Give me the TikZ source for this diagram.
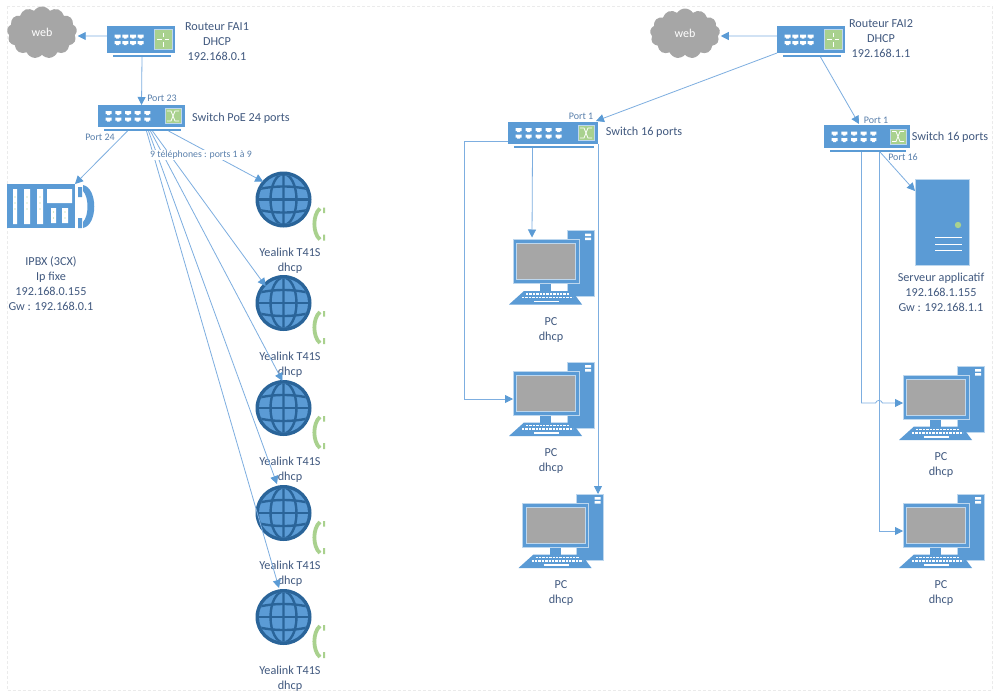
\documentclass[tikz,border=0pt]{standalone}
\usepackage{fontspec}
\setmainfont{Carlito}
\usetikzlibrary{arrows.meta,shapes.symbols}
\definecolor{iconblue}{HTML}{5B9BD5}
\definecolor{iconedge}{HTML}{BDD7EE}
\definecolor{globedark}{HTML}{2A6499}
\definecolor{leafgreen}{HTML}{A9D18E}
\definecolor{screengray}{HTML}{A6A6A6}
\definecolor{inktext}{HTML}{41597F}
\definecolor{inkport}{HTML}{5A80AC}
\definecolor{wire}{HTML}{7DAEE0}
\definecolor{wiretip}{HTML}{5B9BD5}
\newcommand{\rtsym}{
\fill [leafgreen] (-9,-10) rectangle (9,10);
\draw [white,line width=0.8pt] (-6,0) -- (-1.5,0) (1.5,0) -- (6,0) (0,-7) -- (0,-2.5) (0,2.5) -- (0,7);
\draw [iconedge,line width=0.6pt] (-9,-10) rectangle (9,10);
}
\newcommand{\swsym}{
\fill [leafgreen] (-8,-7.5) rectangle (8,7.5);
\draw [white,line width=0.8pt] (-6,-5) -- (-2,-5) -- (2,5) -- (6,5) (-6,5) -- (-2,5) -- (2,-5) -- (6,-5);
\draw [iconedge,line width=0.6pt] (-8,-7.5) rectangle (8,7.5);
}
\tikzset{
  link/.style={wire,line width=0.8pt,-{Triangle[length=8pt,width=8pt,color=wiretip]}},
  lbl/.style={text=inktext,font=\fontsize{12.2}{15}\selectfont,align=center,inner sep=0pt},
  portlbl/.style={text=inkport,font=\fontsize{10}{11}\selectfont,inner sep=0pt},
  blockfill/.style={fill=iconblue,inner sep=0pt,outer sep=0pt},
  webcloud/.style={cloud,cloud puffs=13,cloud puff arc=115,aspect=1.35,fill=screengray,inner sep=0pt,
    text=white,font=\fontsize{12}{13}\selectfont},
  pics/netbox/.style n args={5}{code={
    \node [blockfill,minimum width=#1pt,minimum height=#2pt] (-body) at (0,0) {};
    \node [blockfill,minimum width=#1pt-10pt,minimum height=2pt] (-base) at (1,#2/2+3) {};
    \foreach \i in {1,...,#3} {
      \begin{scope}[shift={({-#1/2+8+(\i-1)*#4},0)}]
      \fill [white] (-0.4,-5) -- (5.6,-5) -- (5.6,-2) -- (4,-2) -- (4,-0.9) -- (1.2,-0.9) -- (1.2,-2) -- (-0.4,-2) -- cycle;
      \fill [white] (-0.4,1.5) -- (5.6,1.5) -- (5.6,4.5) -- (4,4.5) -- (4,5.6) -- (1.2,5.6) -- (1.2,4.5) -- (-0.4,4.5) -- cycle;
      \end{scope}
    }
    \begin{scope}[shift={({#1/2-12},0)}]
    #5
    \end{scope}
  }},
  pics/desktop/.style={code={
    \node [blockfill,draw=iconedge,line width=0.4pt,minimum width=27pt,minimum height=66pt] (-tower) at (34.5,2) {};
    \fill [white] (39,-28) rectangle (45,-25.5) (39,-24) rectangle (45,-21.5);
    \fill [iconblue] (-6,22) rectangle (5,30);
    \node [blockfill,draw=iconedge,line width=0.7pt,minimum width=66pt,minimum height=44pt] (-mon) at (0,0) {};
    \fill [screengray] (-29.5,-18) rectangle (29.5,18);
    \draw [iconedge,line width=0.7pt] (-29.5,-18) rectangle (29.5,18);
    \fill [iconblue] (-22,29.5) -- (26,29.5) -- (36,43) -- (-37,43) -- cycle;
    \draw [white,line width=1.3pt,dash pattern=on 2.4pt off 1pt] (-20,32.5) -- (24,32.5);
    \draw [white,line width=1.3pt,dash pattern=on 2.4pt off 1pt] (-24,36) -- (27,36);
    \draw [white,line width=1.2pt] (-12,40) -- (13,40);
  }},
  pics/phoneglobe/.style={code={
    \node [circle,fill=globedark,inner sep=0pt,outer sep=0pt,minimum size=56pt] (-ball) at (0,0) {};
    \fill [iconblue] (0,0) circle (24.5);
    \begin{scope}
    \clip (0,0) circle (24.5);
    \draw [globedark,line width=2.4pt] (0,-26) -- (0,26) (0,0) ellipse (13 and 25.5);
    \draw [globedark,line width=2.4pt] (-26,0) -- (26,0);
    \draw [globedark,line width=2.4pt] (-26,-10) .. controls (-10,-14) and (10,-14) .. (26,-10);
    \draw [globedark,line width=2.4pt] (-26,10) .. controls (-10,14) and (10,14) .. (26,10);
    \end{scope}
    \draw [leafgreen,line width=3.8pt] (36.5,9) .. controls (29,15) and (29,34) .. (36.5,40);
    \fill [leafgreen] (39.5,8) rectangle (41.5,13.5) (39.5,35) rectangle (41.5,41);
  }},
  pics/pabx/.style={code={
    \node [blockfill,minimum width=68pt,minimum height=44pt] (-body) at (0,0) {};
    \fill [white] (-28,-17) rectangle (-24,18) (-17,-17) rectangle (-11,18) (-4,-17) rectangle (2,18);
    \fill [white] (6,-17) rectangle (31,-3) (10,2) rectangle (15,17) (21,2) rectangle (27,17);
    \fill [leafgreen] (-26,-9) circle (0.7) (-26,-3) circle (0.7) (-26,3) circle (0.7)
      (-14,-9) circle (0.7) (-14,-3) circle (0.7) (-14,3) circle (0.7)
      (-1,-9) circle (0.7) (-1,-3) circle (0.7) (-1,3) circle (0.7)
      (12.5,6) circle (0.7) (12.5,12) circle (0.7) (24,6) circle (0.7) (24,12) circle (0.7);
    \fill [iconblue] (37,-19) rectangle (41,-9) (37,12) rectangle (41,22);
    \fill [iconblue] (42,-21) .. controls (57,-18) and (57,19) .. (42,22) -- (42,16) .. controls (48,10) and (48,-9) .. (42,-15) -- cycle;
  }}
}
\begin{document}
\begin{tikzpicture}[x=1pt,y=-1pt]
\path [use as bounding box,fill=white] (0,0) rectangle (1000,696);
\draw [black!8,line width=0.8pt,dash pattern=on 3pt off 2pt] (7,6) rectangle (992,690);
\node [webcloud,minimum width=70pt,minimum height=52pt] (cloudA) at (42,32.5) {web};
\node [webcloud,minimum width=70pt,minimum height=50pt] (cloudB) at (685,33.5) {web};
\pic (rtrA) at (141,39.5) {netbox={68}{27}{4}{7.7}{\rtsym}};
\pic (rtrB) at (811,39.5) {netbox={68}{27}{4}{7.7}{\rtsym}};
\pic (swP) at (141.5,116) {netbox={87}{22}{5}{9.7}{\swsym}};
\pic (swL) at (553,133) {netbox={90}{22}{5}{10}{\swsym}};
\pic (swR) at (867,136.5) {netbox={86}{23}{5}{9.7}{\swsym}};
\pic (ipbx) at (41,206) {pabx};
\pic (glA) at (283.5,199.5) {phoneglobe};
\pic (glB) at (283.5,303) {phoneglobe};
\pic (glC) at (283.5,408) {phoneglobe};
\pic (glD) at (283.5,513) {phoneglobe};
\pic (glE) at (283.5,617) {phoneglobe};
\pic (pcA) at (546,261.5) {desktop};
\pic (pcB) at (546,393) {desktop};
\pic (pcC) at (555.5,525) {desktop};
\pic (pcD) at (936,397) {desktop};
\pic (pcE) at (936,525) {desktop};
\node [blockfill,draw=iconedge,line width=0.5pt,minimum width=54pt,minimum height=86pt] (srv) at (942,222) {};
\fill [leafgreen] (958,225) circle (3.2);
\draw [white,line width=1pt] (935,237) -- (962,237) (935,244) -- (962,244) (935,250.5) -- (962,250.5);
\node [lbl] (txtRtrA) at (217,42) {Routeur FAI1\\DHCP\\192.168.0.1};
\node [lbl] (txtRtrB) at (881,38.5) {Routeur FAI2\\DHCP\\192.168.1.1};
\node [lbl] (txtSwP) at (241,118) {Switch PoE 24 ports};
\node [lbl] (txtSwL) at (644,132) {Switch 16 ports};
\node [lbl] (txtSwR) at (950,137) {Switch 16 ports};
\node [lbl] (txtIpbx) at (51,284) {IPBX (3CX)\\Ip fixe\\192.168.0.155\\Gw : 192.168.0.1};
\node [lbl] (txtSrv) at (941,292.5) {Serveur applicatif\\192.168.1.155\\Gw : 192.168.1.1};
\node [lbl] (txtGlA) at (290,260.5) {Yealink T41S\\dhcp};
\node [lbl] (txtGlB) at (290,364.5) {Yealink T41S\\dhcp};
\node [lbl] (txtGlC) at (290,469.5) {Yealink T41S\\dhcp};
\node [lbl] (txtGlD) at (290,573.5) {Yealink T41S\\dhcp};
\node [lbl] (txtGlE) at (290,678.5) {Yealink T41S\\dhcp};
\node [lbl] (txtPcA) at (551,330.5) {PC\\dhcp};
\node [lbl] (txtPcB) at (551,461.5) {PC\\dhcp};
\node [lbl] (txtPcC) at (561,593.5) {PC\\dhcp};
\node [lbl] (txtPcD) at (941,465.5) {PC\\dhcp};
\node [lbl] (txtPcE) at (941,593.5) {PC\\dhcp};
\node [portlbl] (pt23) at (162,98) {Port 23};
\node [portlbl] (pt24) at (100,137) {Port 24};
\node [portlbl] (ptL1) at (581,116) {Port 1};
\node [portlbl] (ptR1) at (876,120) {Port 1};
\node [portlbl] (ptR16) at (903,157.5) {Port 16};
\draw [link] ([yshift=3.5pt]rtrA-body.west) -- ([xshift=1pt,yshift=-3.5pt]cloudA.east);
\draw [link] ([yshift=3.5pt]rtrB-body.west) -- ([xshift=1pt,yshift=-2.5pt]cloudB.east);
\draw [link] (rtrA-base.south) -- (swP-body.north);
\draw [link] (rtrB-body.south west) -- ([xshift=-2pt,yshift=1pt]swL-body.north east);
\draw [link] ([xshift=8.5pt]rtrB-base.south) -- ([xshift=-8pt,yshift=1pt]swR-body.north);
\draw [link] ([xshift=-15pt]swP-base.south) -- (ipbx-body.north east);
\draw [link] ([xshift=26pt]swP-base.south) -- ([xshift=-0.5pt,yshift=-2pt]glA-ball.north west);
\draw [link] ([xshift=10pt]swP-base.south) -- ([xshift=2pt,yshift=-3pt]glB-ball.north west);
\draw [link] ([xshift=8pt]swP-base.south) -- ([xshift=-1pt,yshift=-1pt]glC-ball.north);
\draw [link] ([xshift=6pt]swP-base.south) -- ([xshift=-6.5pt,yshift=1pt]glD-ball.north);
\draw [link] ([xshift=4pt]swP-base.south) -- ([xshift=-4.5pt,yshift=1pt]glE-ball.north);
\draw [link] ([xshift=-21.5pt]swL-base.south) -- ([xshift=-14pt,yshift=2pt]pcA-mon.north);
\draw [link] ([yshift=-8.5pt]swL-body.west) -- ++(-44,0) |- ([yshift=-6pt]pcB-mon.west);
\draw [link] (swL-body.south east) -- (swL-body.south east |- pcC-tower.north);
\draw [link] ([xshift=12pt]swR-base.south) -- ([yshift=31pt]srv.west);
\coordinate (jmpL) at (875.5,403);
\coordinate (jmpR) at (882.5,403);
\draw [link] ([xshift=-6.5pt]swR-base.south) |- (jmpL) .. controls (877,399.5) and (881,399.5) .. (jmpR) -- ([yshift=-6pt]pcD-mon.west);
\draw [link] ([xshift=11.5pt]swR-base.south) |- ([yshift=-6pt]pcE-mon.west);
\node [portlbl,fill=white,inner sep=1pt,font=\fontsize{9.8}{11}\selectfont] (txtFan) at (201,155) {9 téléphones : ports 1 à 9};
\end{tikzpicture}
\end{document}
